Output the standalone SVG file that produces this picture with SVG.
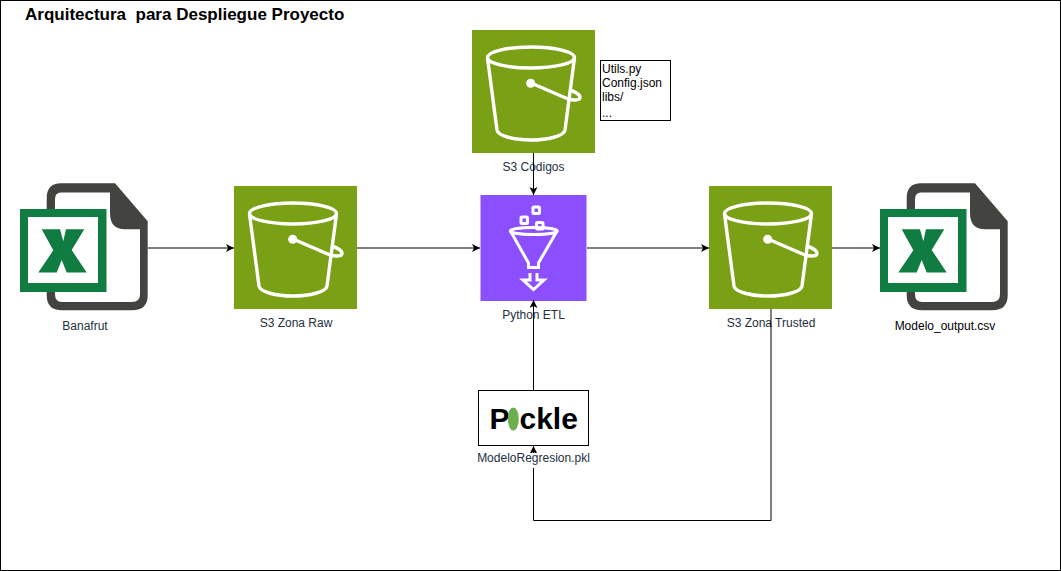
<svg xmlns="http://www.w3.org/2000/svg" width="1061" height="571" viewBox="0 0 1061 571">
<style>
text{font-family:"Liberation Sans",Arial,sans-serif;font-size:12px;fill:#232F3E}
.c{text-anchor:middle}
.k{fill:#000}
.i{fill:none;stroke:#fff;stroke-width:3.400}
.w{fill:none;stroke:#fff;stroke-width:3}
.e{fill:none;stroke:#000;stroke-width:1;marker-end:url(#a)}
</style>
<defs>
<marker id="a" markerUnits="userSpaceOnUse" markerWidth="10" markerHeight="10" refX="8" refY="4" orient="auto"><path d="M0 0L8 4L0 8L2 4Z" fill="#000"/></marker>
<symbol id="bucket" width="123" height="123" viewBox="0 0 123 123" overflow="visible">
<rect width="123" height="123" fill="#7AA116"/>
<ellipse class="i" cx="59" cy="27.500" rx="43.500" ry="10.500"/>
<path class="i" d="M15.500 28L25 100C26 106 42 110 59 110C76 110 92 106 93 100L102.500 28"/>
<circle cx="58.700" cy="53.300" r="4.500" fill="#fff"/>
<path class="i" d="M59 53L96 69C103 71 108 70 108 67.500C108 64 103 62 98.500 60"/>
</symbol>
<symbol id="xl" width="128" height="128" viewBox="0 0 128 128" overflow="visible">
<path fill="#434340" fill-rule="evenodd" d="M41 0H95L127.700 38V112Q127.700 127 112 127H42Q26.700 127 26.700 112V15Q26.700 0 41 0ZM41 9.300Q35 9.300 35 16V111Q35 118.700 42 118.700H112Q120 118.700 120 111V46H105Q90 46 90 30V9.300Z"/>
<rect y="25.700" width="86.500" height="83" fill="#107C41"/>
<rect x="8" y="33.700" width="70" height="66" fill="#fff"/>
<path fill="#107C41" d="M21.700 46H40L43.300 58L46 46H64.300L51.700 66.700L66.700 89.300H46.700L41.700 76.700L36.700 89.300H18.300L33.300 67Z"/>
</symbol>
</defs>
<rect id="frame" x="0.500" y="0.500" width="1060" height="570" fill="#fff" stroke="#000"/>
<text id="title" x="25" y="20" class="k" style="font-size:17px;font-weight:bold;white-space:pre">Arquitectura  para Despliegue Proyecto</text>
<g id="banafrut"><use href="#xl" x="20" y="183.300"/><text class="c" x="85" y="330">Banafrut</text></g>
<g id="s3-raw"><use href="#bucket" x="234" y="186"/><text class="c" x="296" y="327">S3 Zona Raw</text></g>
<g id="s3-codigos"><use href="#bucket" x="472" y="30"/><text class="c" x="533.500" y="171">S3 Códigos</text></g>
<g id="notes"><rect x="600.500" y="60.500" width="70" height="60" fill="#fff" stroke="#000"/>
<text x="602" y="73" class="k">Utils.py</text><text x="602" y="87" class="k">Config.json</text><text x="602" y="101" class="k">libs/</text><text x="602" y="117" class="k">...</text></g>
<g id="python-etl"><rect x="480.500" y="195" width="106" height="106" fill="#8C4FFF"/>
<g class="w"><rect x="533" y="207" width="6.500" height="6.500" rx="1"/><rect x="521" y="217" width="6.500" height="6.500" rx="1"/><rect x="536.500" y="222.500" width="6.500" height="6.500" rx="1"/>
<ellipse cx="533.800" cy="231" rx="23.500" ry="3.500"/>
<path d="M510.500 231L528.500 263V267.500H538.500V263L557 231"/>
<path d="M530 273V280H523L533.500 289.500L544 280H537V273"/></g>
<text class="c" x="533.500" y="319">Python ETL</text></g>
<g id="s3-trusted"><use href="#bucket" x="709" y="186"/><text class="c" x="771" y="327">S3 Zona Trusted</text></g>
<g id="modelo-output"><use href="#xl" x="880" y="183.300"/><text class="c k" x="945" y="330">Modelo_output.csv</text></g>
<g id="connectors">
<path class="e" d="M148 248H234"/>
<path class="e" d="M357 248H480"/>
<path class="e" d="M587 248H709"/>
<path class="e" d="M832 248H880"/>
<path class="e" d="M533.500 153V195"/>
<path class="e" d="M533.500 390V300"/>
<path class="e" d="M771 309V520.500H533.500V446"/>
</g>
<g id="pickle"><rect x="478.500" y="390.500" width="110" height="55" fill="#fff" stroke="#000"/>
<text x="489.500" y="429" class="k" style="font-size:30px;font-weight:bold">P</text>
<text x="519.500" y="429" class="k" style="font-size:30px;font-weight:bold">ckle</text>
<ellipse cx="513.300" cy="419" rx="5.500" ry="11.500" fill="#6DAE4F"/>
<rect x="476" y="453" width="116" height="15" fill="#fff"/>
<text class="c" x="533.500" y="462">ModeloRegresion.pkl</text></g>
</svg>
